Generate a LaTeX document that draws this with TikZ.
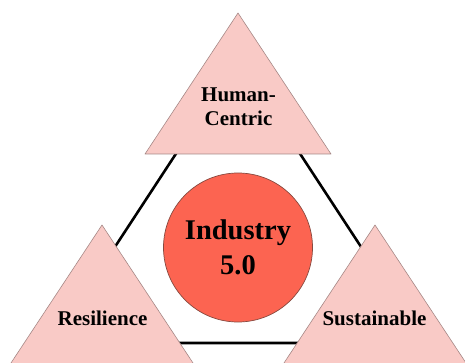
\documentclass[tikz,border=0pt]{standalone}
\usepackage{fontspec}
\setmainfont{Liberation Serif}
\usetikzlibrary{positioning}
\definecolor{pillarfill}{HTML}{F9CAC6}
\definecolor{pillaredge}{HTML}{A68886}
\definecolor{corefill}{HTML}{FC6451}
\definecolor{coreedge}{HTML}{86493F}
\tikzset{
  pillar/.style={draw=pillaredge, fill=pillarfill, line width=0.6pt, line join=round},
  core/.style={circle, draw=coreedge, fill=corefill, line width=0.7pt, minimum size=149pt, inner sep=0pt, align=center, font=\bfseries\fontsize{28.5}{35}\selectfont},
  plabel/.style={align=center, font=\bfseries\fontsize{21}{24}\selectfont},
  link/.style={line width=2.6pt, black},
}

\begin{document}
\begin{tikzpicture}[x=1pt, y=-1pt]
  \useasboundingbox (0,0) rectangle (465,363);
  \clip (0,0) rectangle (465,363);

  % ring behind the three pillars
  \coordinate (ringtop) at (238,59);
  \coordinate (ringleft) at (52,343);
  \coordinate (ringright) at (424,343);
  \draw[link] (ringtop) -- (ringleft) -- (ringright) -- cycle;

  % the three pillars (apex x/y)
  \foreach \ax/\ay in {238/13, 102/225, 375/225} {
    \filldraw[pillar] (\ax,\ay) -- ++(93,141) -- ++(-186,0) -- cycle;
  }

  \node[plabel] (hc) at (238.5,107) {Human-\\Centric};
  \node[plabel, anchor=base] (res) at (102.5,325) {Resilience};
  \node[plabel, anchor=base] (sus) at (374.5,325) {Sustainable};

  % centre
  \node[core] (ind) at (238,247.5) {Industry\\5.0};
\end{tikzpicture}
\end{document}
